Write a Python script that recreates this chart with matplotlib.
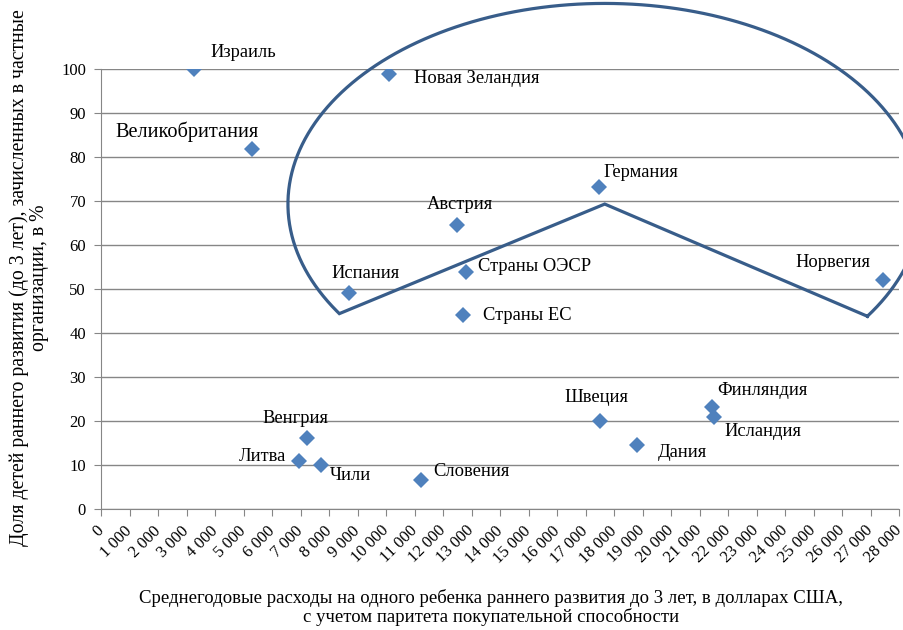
import numpy as np
import matplotlib
matplotlib.use("Agg")
import matplotlib.pyplot as plt

plt.rcParams['font.family'] = ['Liberation Serif', 'DejaVu Serif']

# Страны и их показатели
countries = ["Израиль", "Новая Зеландия", "Великобритания", "Испания", "Австрия",
             "Страны ОЭСР", "Страны ЕС", "Германия", "Норвегия", "Венгрия",
             "Литва", "Чили", "Словения", "Швеция", "Дания", "Финляндия", "Исландия"]
spending = [3250, 10100, 5280, 8700, 12470, 12790, 12690, 17470, 27450, 7220,
            6940, 7710, 11220, 17500, 18820, 21420, 21490]
private_share = [100, 98.9, 81.8, 49.0, 64.6, 53.9, 44.0, 73.1, 52.0, 16.1,
                 10.8, 10.0, 6.6, 20.1, 14.5, 23.1, 20.8]

# Смещение подписей (пиксели) и выравнивание
label_offsets = [(16, 16), (25, -5), (7, 17), (50, 20), (36, 20),
                 (12, 5), (20, 0), (4, 15), (-13, 18), (21, 20),
                 (-13, 5), (9, -11), (12, 8), (29, 23), (20, -7), (6, 17), (11, -14)]
label_align = ['left', 'left', 'right', 'right', 'right',
               'left', 'left', 'left', 'right', 'right',
               'right', 'left', 'left', 'right', 'left', 'left', 'left']

# Выделенная группа стран: сектор эллипса
WEDGE_CENTER = (17670, 69.3)
WEDGE_AXES = (11120, 45.6)
WEDGE_FROM, WEDGE_TO = -34.0, 213.1

x_ticks = np.arange(0, 28001, 1000)
y_ticks = np.arange(0, 101, 10)

fig = plt.figure(figsize=(9.04, 6.30), dpi=100)
ax = fig.add_axes([0.1121, 0.1921, 0.8824, 0.6984])

grid_col = '#868686'
ax.set_xlim(0, 28000)
ax.set_ylim(0, 100)
ax.set_yticks(y_ticks)
ax.set_xticks(x_ticks)
ax.set_xticklabels(['{:,}'.format(v).replace(',', ' ') for v in x_ticks],
                   rotation=45, ha='right', va='center', rotation_mode='anchor')
for lab in ax.get_xticklabels():
    lab.set_fontsize(12)
ax.tick_params(axis='y', labelsize=12, length=5, color=grid_col, pad=6)
ax.tick_params(axis='x', length=5, color=grid_col, pad=9)
ax.yaxis.grid(True, color=grid_col, linewidth=1)
ax.set_axisbelow(True)
for side in ['top', 'right']:
    ax.spines[side].set_visible(False)
for side in ['left', 'bottom']:
    ax.spines[side].set_color(grid_col)

ax.plot(spending, private_share, 'D', color='#4F81BD', markersize=8.5,
        markeredgewidth=0, zorder=3)

for name, x, y, off, al in zip(countries, spending, private_share,
                               label_offsets, label_align):
    size = 14.7 if name == "Великобритания" else 13.3
    ax.annotate(name, (x, y), xytext=off, textcoords='offset pixels',
                ha=al, va='center', fontsize=size)

# контур сектора
t = np.radians(np.linspace(WEDGE_FROM, WEDGE_TO, 300))
wx = WEDGE_CENTER[0] + WEDGE_AXES[0] * np.cos(t)
wy = WEDGE_CENTER[1] + WEDGE_AXES[1] * np.sin(t)
wx = np.concatenate([wx, [WEDGE_CENTER[0], wx[0]]])
wy = np.concatenate([wy, [WEDGE_CENTER[1], wy[0]]])
ax.plot(wx, wy, color='#385D8A', linewidth=2.3, clip_on=False,
        solid_joinstyle='miter', zorder=4)

ax.set_xlabel("Среднегодовые расходы на одного ребенка раннего развития до 3 лет, в долларах США,\n"
              "с учетом паритета покупательной способности", fontsize=13.5, linespacing=1.1)
ax.xaxis.set_label_coords(0.488, -0.182)
ax.xaxis.label.set_va('top')
ax.set_ylabel("Доля детей раннего развития (до 3 лет), зачисленных в частные\n"
              "организации, в %", fontsize=14.2, linespacing=1.05)
ax.yaxis.set_label_coords(-0.066, 0.525)

fig.savefig("out.png", dpi=100)
